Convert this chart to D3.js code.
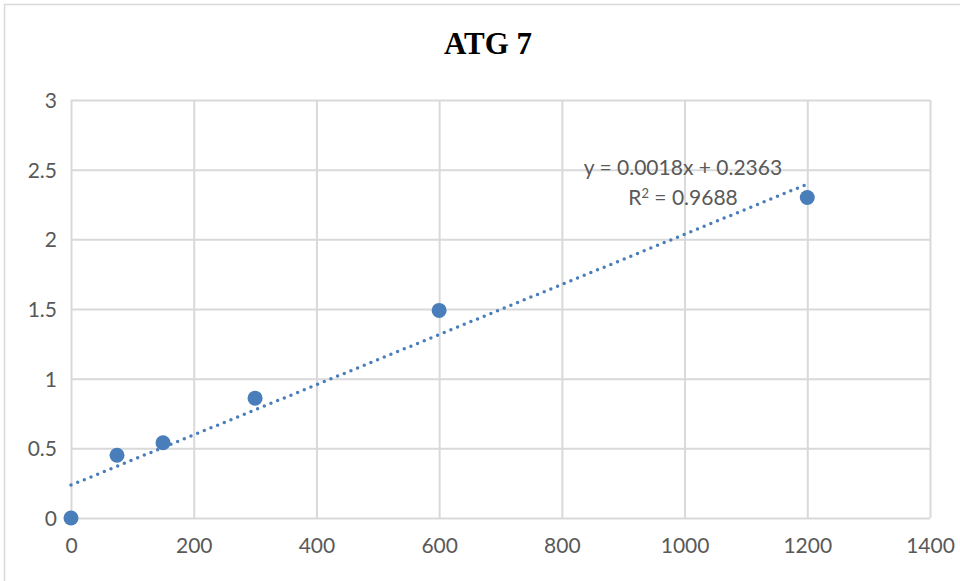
<!DOCTYPE html>
<html>
<head>
<meta charset="utf-8">
<script src="https://cdn.jsdelivr.net/npm/d3@7"></script>
<style>
  html, body { margin: 0; padding: 0; background: #fff; }
  svg { display: block; }
</style>
</head>
<body>
<svg id="chart" width="960" height="581"></svg>
<script>
// Concentration (x) vs. response (y) for ATG 7
const xValues = [0, 75, 150, 300, 600, 1200];
const yValues = [0, 0.45, 0.54, 0.86, 1.49, 2.30];
const xTicks = [0, 200, 400, 600, 800, 1000, 1200, 1400];
const yTicks = [0, 0.5, 1, 1.5, 2, 2.5, 3];
const trendSlope = 0.0018;
const trendIntercept = 0.2363;
const rSquared = 0.9688;
const title = "ATG 7";

const svg = d3.select("#chart");
const W = 960, H = 581;
const margin = { left: 71, right: 30, top: 100, bottom: 63 };

const x = d3.scaleLinear().domain([0, 1400]).range([margin.left, W - margin.right]);
const y = d3.scaleLinear().domain([0, 3]).range([H - margin.bottom, margin.top]);

const gridColor = "#d9d9d9";
const textColor = "#595959";
const markColor = "#4a7ebb";
const font = "Lato, 'Open Sans', sans-serif";

// chart frame
svg.append("rect")
  .attr("x", 4.5).attr("y", 4.5)
  .attr("width", W + 10).attr("height", H + 10)
  .attr("fill", "none").attr("stroke", "#d9d9d9").attr("stroke-width", 1.5);

// title
svg.append("text")
  .attr("x", 488).attr("y", 54)
  .attr("text-anchor", "middle")
  .attr("font-family", "'Liberation Serif', 'Times New Roman', serif")
  .attr("font-weight", "bold")
  .attr("font-size", 31)
  .attr("fill", "#000")
  .text(title);

// vertical gridlines + x tick labels
const xAxis = d3.axisBottom(x).tickValues(xTicks).tickSize(-(y(0) - y(3))).tickPadding(20).tickFormat(d3.format("d"));
const gx = svg.append("g").attr("transform", `translate(0,${y(0)})`).call(xAxis);
gx.select(".domain").remove();
gx.selectAll("line").attr("stroke", gridColor).attr("stroke-width", 2);
gx.selectAll("text").attr("font-family", font).attr("font-size", 21).attr("fill", textColor);

// horizontal gridlines + y tick labels
const yAxis = d3.axisLeft(y).tickValues(yTicks).tickSize(-(x(1400) - x(0))).tickPadding(14).tickFormat(d => String(d));
const gy = svg.append("g").attr("transform", `translate(${x(0)},0)`).call(yAxis);
gy.select(".domain").remove();
gy.selectAll("line").attr("stroke", gridColor).attr("stroke-width", 2);
gy.selectAll("text").attr("font-family", font).attr("font-size", 21).attr("fill", textColor).attr("dy", "0.35em");

// linear trendline, dotted
const trendX = [0, 1200];
svg.append("path")
  .datum(trendX)
  .attr("d", d3.line().x(d => x(d)).y(d => y(trendSlope * d + trendIntercept)))
  .attr("fill", "none")
  .attr("stroke", markColor)
  .attr("stroke-width", 3.5)
  .attr("stroke-linecap", "round")
  .attr("stroke-dasharray", "0 7.2");

// data points
svg.append("g").selectAll("circle")
  .data(xValues.map((v, i) => [v, yValues[i]]))
  .join("circle")
  .attr("cx", d => x(d[0]))
  .attr("cy", d => y(d[1]))
  .attr("r", 7.5)
  .attr("fill", markColor);

// trendline equation label
const eq = svg.append("text")
  .attr("text-anchor", "middle")
  .attr("font-family", font)
  .attr("font-size", 21)
  .attr("fill", textColor);
eq.append("tspan").attr("x", 683).attr("y", 175)
  .text(`y = ${trendSlope}x + ${trendIntercept}`);
const r2 = eq.append("tspan").attr("x", 683).attr("y", 205);
r2.append("tspan").text("R");
r2.append("tspan").attr("dy", -7).attr("font-size", 13).text("2");
r2.append("tspan").attr("dy", 7).text(` = ${rSquared}`);
</script>
</body>
</html>
